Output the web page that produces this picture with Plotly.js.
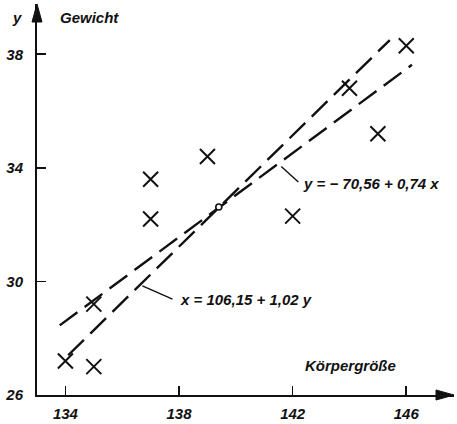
<!DOCTYPE html>
<html>
<head>
<meta charset="utf-8">
<script src="https://cdn.plot.ly/plotly-3.0.1.min.js"></script>
<style>
  html, body { margin: 0; padding: 0; background: #fff; }
  #chart { width: 457px; height: 424px; }
</style>
</head>
<body>
<div id="chart"></div>
<script>
// Körpergröße (x) und Gewicht (y) der Stichprobe
const groesse = [134, 135, 135, 137, 137, 139, 142, 144, 145, 146];
const gewicht = [27.2, 27.0, 29.2, 33.6, 32.2, 34.4, 32.3, 36.8, 35.2, 38.3];

// Regressionsgeraden: y = a + b x  und  x = c + d y
const regYaufX = { a: -70.56, b: 0.74 };
const regXaufY = { c: 106.15, d: 1.02 };
const bereichYaufX = [133.8, 146.2];   // x-Bereich der ersten Geraden
const bereichXaufY = [27.4, 38.5];     // y-Bereich der zweiten Geraden

const xTicks = [134, 138, 142, 146];
const yTicks = [26, 30, 34, 38];

const ink = '#111';
const font = 'Liberation Sans, Arial, sans-serif';

// Schwerpunkt der Punktwolke
const mx = groesse.reduce((s, v) => s + v, 0) / groesse.length;
const my = gewicht.reduce((s, v) => s + v, 0) / gewicht.length;

const dash = '22px,9px';

const traces = [
  {
    x: bereichYaufX,
    y: bereichYaufX.map(x => regYaufX.a + regYaufX.b * x),
    mode: 'lines',
    line: { color: ink, width: 2.4, dash: dash }
  },
  {
    x: bereichXaufY.map(y => regXaufY.c + regXaufY.d * y),
    y: bereichXaufY,
    mode: 'lines',
    line: { color: ink, width: 2.4, dash: dash }
  },
  {
    x: groesse,
    y: gewicht,
    mode: 'markers',
    marker: { symbol: 'x-thin-open', size: 15, color: ink, line: { color: ink, width: 2 } }
  },
  {
    x: [mx],
    y: [my],
    mode: 'markers',
    marker: { symbol: 'circle', size: 6, color: '#fff', line: { color: ink, width: 1.6 } }
  }
];

const W = 457, H = 424;
const M = { l: 37, r: 3, t: 4, b: 29 };
const pw = W - M.l - M.r;   // Breite der Zeichenfläche
const ph = H - M.t - M.b;   // Höhe der Zeichenfläche

const xr = [133, 147.68];
const yr = [26, 39.77];

const lbl = () => ({ family: font, size: 15, color: ink, style: 'italic', weight: 'bold' });

function text(t, x, y, anchor) {
  return {
    text: t, x: x, xref: 'x', y: y, yref: 'y', showarrow: false,
    xanchor: anchor, yanchor: 'middle', font: lbl()
  };
}

// Pfeilspitzen in Papierkoordinaten (Länge 18 px, halbe Breite 5 px)
const aL = 18, aW = 5;
const pfeilY = `M0,1 L${-aW / pw},${1 - aL / ph} L${aW / pw},${1 - aL / ph} Z`;
const pfeilX = `M1,0 L${1 - aL / pw},${aW / ph} L${1 - aL / pw},${-aW / ph} Z`;

const layout = {
  width: W,
  height: H,
  margin: M,
  paper_bgcolor: '#fff',
  plot_bgcolor: '#fff',
  showlegend: false,
  xaxis: {
    range: xr, tickvals: xTicks, ticktext: xTicks.map(String),
    ticks: 'inside', ticklen: 9, tickwidth: 1.6, tickcolor: ink,
    showline: true, linecolor: ink, linewidth: 2,
    showgrid: false, zeroline: false,
    ticklabelstandoff: 4, tickfont: lbl()
  },
  yaxis: {
    range: yr, tickvals: yTicks, ticktext: yTicks.map(String),
    ticks: 'inside', ticklen: 9, tickwidth: 1.6, tickcolor: ink,
    showline: true, linecolor: ink, linewidth: 2,
    showgrid: false, zeroline: false,
    ticklabelstandoff: 9, tickfont: lbl()
  },
  shapes: [
    { type: 'path', xref: 'paper', yref: 'paper', path: pfeilY, fillcolor: ink, line: { color: ink, width: 1 } },
    { type: 'path', xref: 'paper', yref: 'paper', path: pfeilX, fillcolor: ink, line: { color: ink, width: 1 } },
    // Hinweislinien zu den Gleichungen
    { type: 'line', xref: 'x', yref: 'y', x0: 141.6, y0: 34.05, x1: 142.2, y1: 33.5, line: { color: ink, width: 1.4 } },
    { type: 'line', xref: 'x', yref: 'y', x0: 136.71, y0: 29.84, x1: 137.77, y1: 29.38, line: { color: ink, width: 1.4 } }
  ],
  annotations: [
    { text: 'y', x: -20 / pw, xref: 'paper', y: 1 - 13 / ph, yref: 'paper', showarrow: false,
      xanchor: 'center', yanchor: 'middle', font: lbl() },
    text('Gewicht', 133.75, 39.3, 'left'),
    text('Körpergröße', 142.35, 27.05, 'left'),
    text('x', 147.15, 25.38, 'center'),
    text('y = − 70,56 + 0,74 x', 142.3, 33.46, 'left'),
    text('x = 106,15 + 1,02 y', 137.95, 29.35, 'left')
  ]
};

Plotly.newPlot('chart', traces, layout, { staticPlot: true, displayModeBar: false });
</script>
</body>
</html>
